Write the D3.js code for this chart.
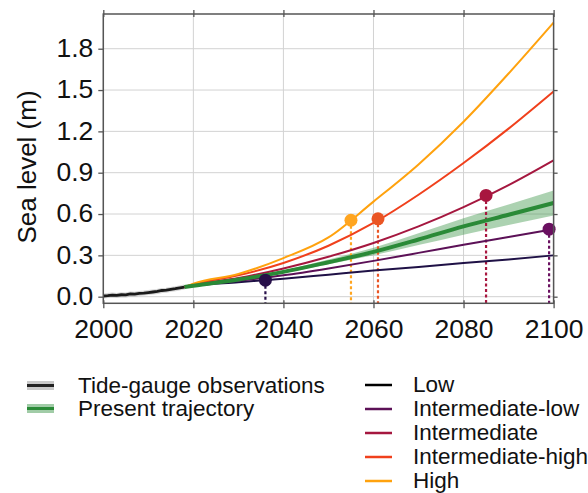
<!DOCTYPE html>
<html><head><meta charset="utf-8">
<script src="https://cdn.jsdelivr.net/npm/d3@7"></script>
<style>html,body{margin:0;padding:0;background:#fff;}svg{display:block;font-family:"Liberation Sans",Arial,sans-serif;}</style>
</head><body>
<script>
// ---- data ----
const obsYears = [2000,2001,2002,2003,2004,2005,2006,2007,2008,2009,2010,2011,2012,2013,2014,2015,2016,2017,2018];
const obsValues = [0.005,0.008,0.012,0.009,0.014,0.013,0.02,0.018,0.024,0.026,0.03,0.034,0.038,0.045,0.047,0.053,0.058,0.064,0.07];
const projYears = [2018,2020,2030,2040,2050,2060,2070,2080,2090,2100];
const lowValues = [0.07,0.08,0.105,0.13,0.16,0.19,0.215,0.245,0.27,0.30];
const intLowValues = [0.07,0.08,0.115,0.155,0.205,0.26,0.318,0.377,0.433,0.49];
const intValues = [0.07,0.085,0.135,0.205,0.29,0.39,0.51,0.65,0.81,0.99];
const intHighValues = [0.07,0.09,0.155,0.245,0.37,0.535,0.74,0.97,1.22,1.49];
const highValues = [0.07,0.095,0.165,0.28,0.43,0.69,0.96,1.27,1.62,1.99];
const trajMid = [0.07,0.08,0.125,0.18,0.25,0.325,0.415,0.51,0.595,0.68];
const trajUpper = [0.07,0.082,0.13,0.19,0.27,0.355,0.46,0.57,0.67,0.77];
const trajLower = [0.07,0.078,0.12,0.17,0.235,0.30,0.375,0.45,0.52,0.59];
const scenarioNames = ["Low","Intermediate-low","Intermediate","Intermediate-high","High"];
const scenarioColors = ["#1f1146","#5c1157","#a5173f","#f0401c","#ffa20e"];
const markerColors = ["#28104a","#6a1060","#a8163f","#ea5524","#ffa520"];
const markerYears = [2036,2099,2085,2061,2055];
const markerValues = [0.12,0.49,0.735,0.565,0.555];
const yTicks = [0.0,0.3,0.6,0.9,1.2,1.5,1.8];
const xTicks = [2000,2020,2040,2060,2080,2100];
const obsLegend = ["Tide-gauge observations","Present trajectory"];

// ---- layout ----
const W = 588, H = 493;
const svg = d3.select("body").append("svg").attr("width",W).attr("height",H);
const x = d3.scaleLinear().domain([2000,2100]).range([103.3,553.6]);
const y = d3.scaleLinear().domain([-0.048,2.052]).range([303.3,14]);
const axisCol = "#555";

// gridlines
const g = svg.append("g");
g.selectAll(".gx").data(xTicks).join("line")
  .attr("x1",d=>x(d)).attr("x2",d=>x(d)).attr("y1",y.range()[1]).attr("y2",y.range()[0])
  .attr("stroke","#d2d2d2").attr("stroke-width",1);
g.selectAll(".gy").data(yTicks).join("line")
  .attr("y1",d=>y(d)).attr("y2",d=>y(d)).attr("x1",x.range()[0]).attr("x2",x.range()[1])
  .attr("stroke","#d2d2d2").attr("stroke-width",1);

// trajectory band
const band = projYears.map((t,i)=>({t,lo:trajLower[i],hi:trajUpper[i],m:trajMid[i]}));
svg.append("path").datum(band)
  .attr("d",d3.area().x(d=>x(d.t)).y0(d=>y(d.lo)).y1(d=>y(d.hi)).curve(d3.curveMonotoneX))
  .attr("fill","#2f8f3c").attr("fill-opacity",0.4);

// dotted drop lines
markerYears.forEach((t,i)=>{
  svg.append("line").attr("x1",x(t)).attr("x2",x(t)).attr("y1",y(markerValues[i])).attr("y2",y.range()[0])
    .attr("stroke",markerColors[i]).attr("stroke-width",2.2).attr("stroke-dasharray","3,2.5");
});

// scenario lines
const scen = [lowValues,intLowValues,intValues,intHighValues,highValues];
const line = d3.line().curve(d3.curveMonotoneX);
scen.forEach((vals,i)=>{
  svg.append("path").datum(projYears.map((t,j)=>[x(t),y(vals[j])]))
    .attr("d",line).attr("fill","none").attr("stroke",scenarioColors[i]).attr("stroke-width",2);
});
// trajectory mid line
svg.append("path").datum(band.map(d=>[x(d.t),y(d.m)]))
  .attr("d",line).attr("fill","none").attr("stroke","#2a8a37").attr("stroke-width",4);

// observations
const obsPts = obsYears.map((t,i)=>[x(t),y(obsValues[i])]);
svg.append("path").datum(obsPts).attr("d",d3.line()).attr("fill","none")
  .attr("stroke","#999").attr("stroke-opacity",0.4).attr("stroke-width",5);
svg.append("path").datum(obsPts).attr("d",d3.line()).attr("fill","none")
  .attr("stroke","#1a1a1a").attr("stroke-width",2.8);

// markers
markerYears.forEach((t,i)=>{
  svg.append("circle").attr("cx",x(t)).attr("cy",y(markerValues[i])).attr("r",6.5)
    .attr("fill",markerColors[i]);
});

// frame
const [x0,x1]=x.range(), [y0,y1]=y.range();
svg.append("rect").attr("x",x0).attr("y",y1).attr("width",x1-x0).attr("height",y0-y1)
  .attr("fill","none").attr("stroke",axisCol).attr("stroke-width",1.5);

// axes
const fmt = d3.format(".1f");
const ax = svg.append("g").attr("transform",`translate(0,${y0})`)
  .call(d3.axisBottom(x).tickValues(xTicks).tickFormat(d3.format("d")).tickSize(5).tickPadding(5));
const ay = svg.append("g").attr("transform",`translate(${x0},0)`)
  .call(d3.axisLeft(y).tickValues(yTicks).tickFormat(fmt).tickSize(5).tickPadding(5));
const at = svg.append("g").attr("transform",`translate(0,${y1})`)
  .call(d3.axisTop(x).tickValues(xTicks).tickFormat("").tickSize(4));
const ar = svg.append("g").attr("transform",`translate(${x1},0)`)
  .call(d3.axisRight(y).tickValues(yTicks).tickFormat("").tickSize(4));
[ax,ay,at,ar].forEach(a=>{
  a.select(".domain").remove();
  a.selectAll("line").attr("stroke",axisCol).attr("stroke-width",1.3);
  a.selectAll("text").attr("fill","#111").style("font-size","26.5px").attr("font-family","'Liberation Sans',Arial,sans-serif");
});
ax.selectAll(".tick line").attr("y1",-3);
at.selectAll(".tick line").attr("y1",3);
ax.selectAll("text").attr("dy",null).attr("y",35);
ay.selectAll("text").attr("dy","0.3em");

// y title
svg.append("text").attr("transform","translate(36,167) rotate(-90)")
  .attr("text-anchor","middle").attr("fill","#111").style("font-size","26px").text("Sea level (m)");

// legend left
const lg = svg.append("g");
const lcols = [["#888","#222"],["#2f8f3c","#2a8a37"]];
obsLegend.forEach((name,i)=>{
  const by = 393 + i*23;
  lg.append("rect").attr("x",27).attr("y",by-12).attr("width",27).attr("height",9)
    .attr("fill",lcols[i][0]).attr("fill-opacity",0.45);
  lg.append("line").attr("x1",27).attr("x2",54).attr("y1",by-7.5).attr("y2",by-7.5)
    .attr("stroke",lcols[i][1]).attr("stroke-width",3);
  lg.append("text").attr("x",78).attr("y",by).attr("fill","#111").style("font-size","22.5px").text(name);
});
// legend right
const legendLineCols = ["#000","#5c1157","#a5173f","#f0401c","#ffa20e"];
scenarioNames.forEach((name,i)=>{
  const by = 392 + i*24;
  lg.append("line").attr("x1",365).attr("x2",392).attr("y1",by-7).attr("y2",by-7)
    .attr("stroke",legendLineCols[i]).attr("stroke-width",2.5);
  lg.append("text").attr("x",413).attr("y",by).attr("fill","#111").style("font-size","22.5px").text(name);
});
</script>
</body></html>
